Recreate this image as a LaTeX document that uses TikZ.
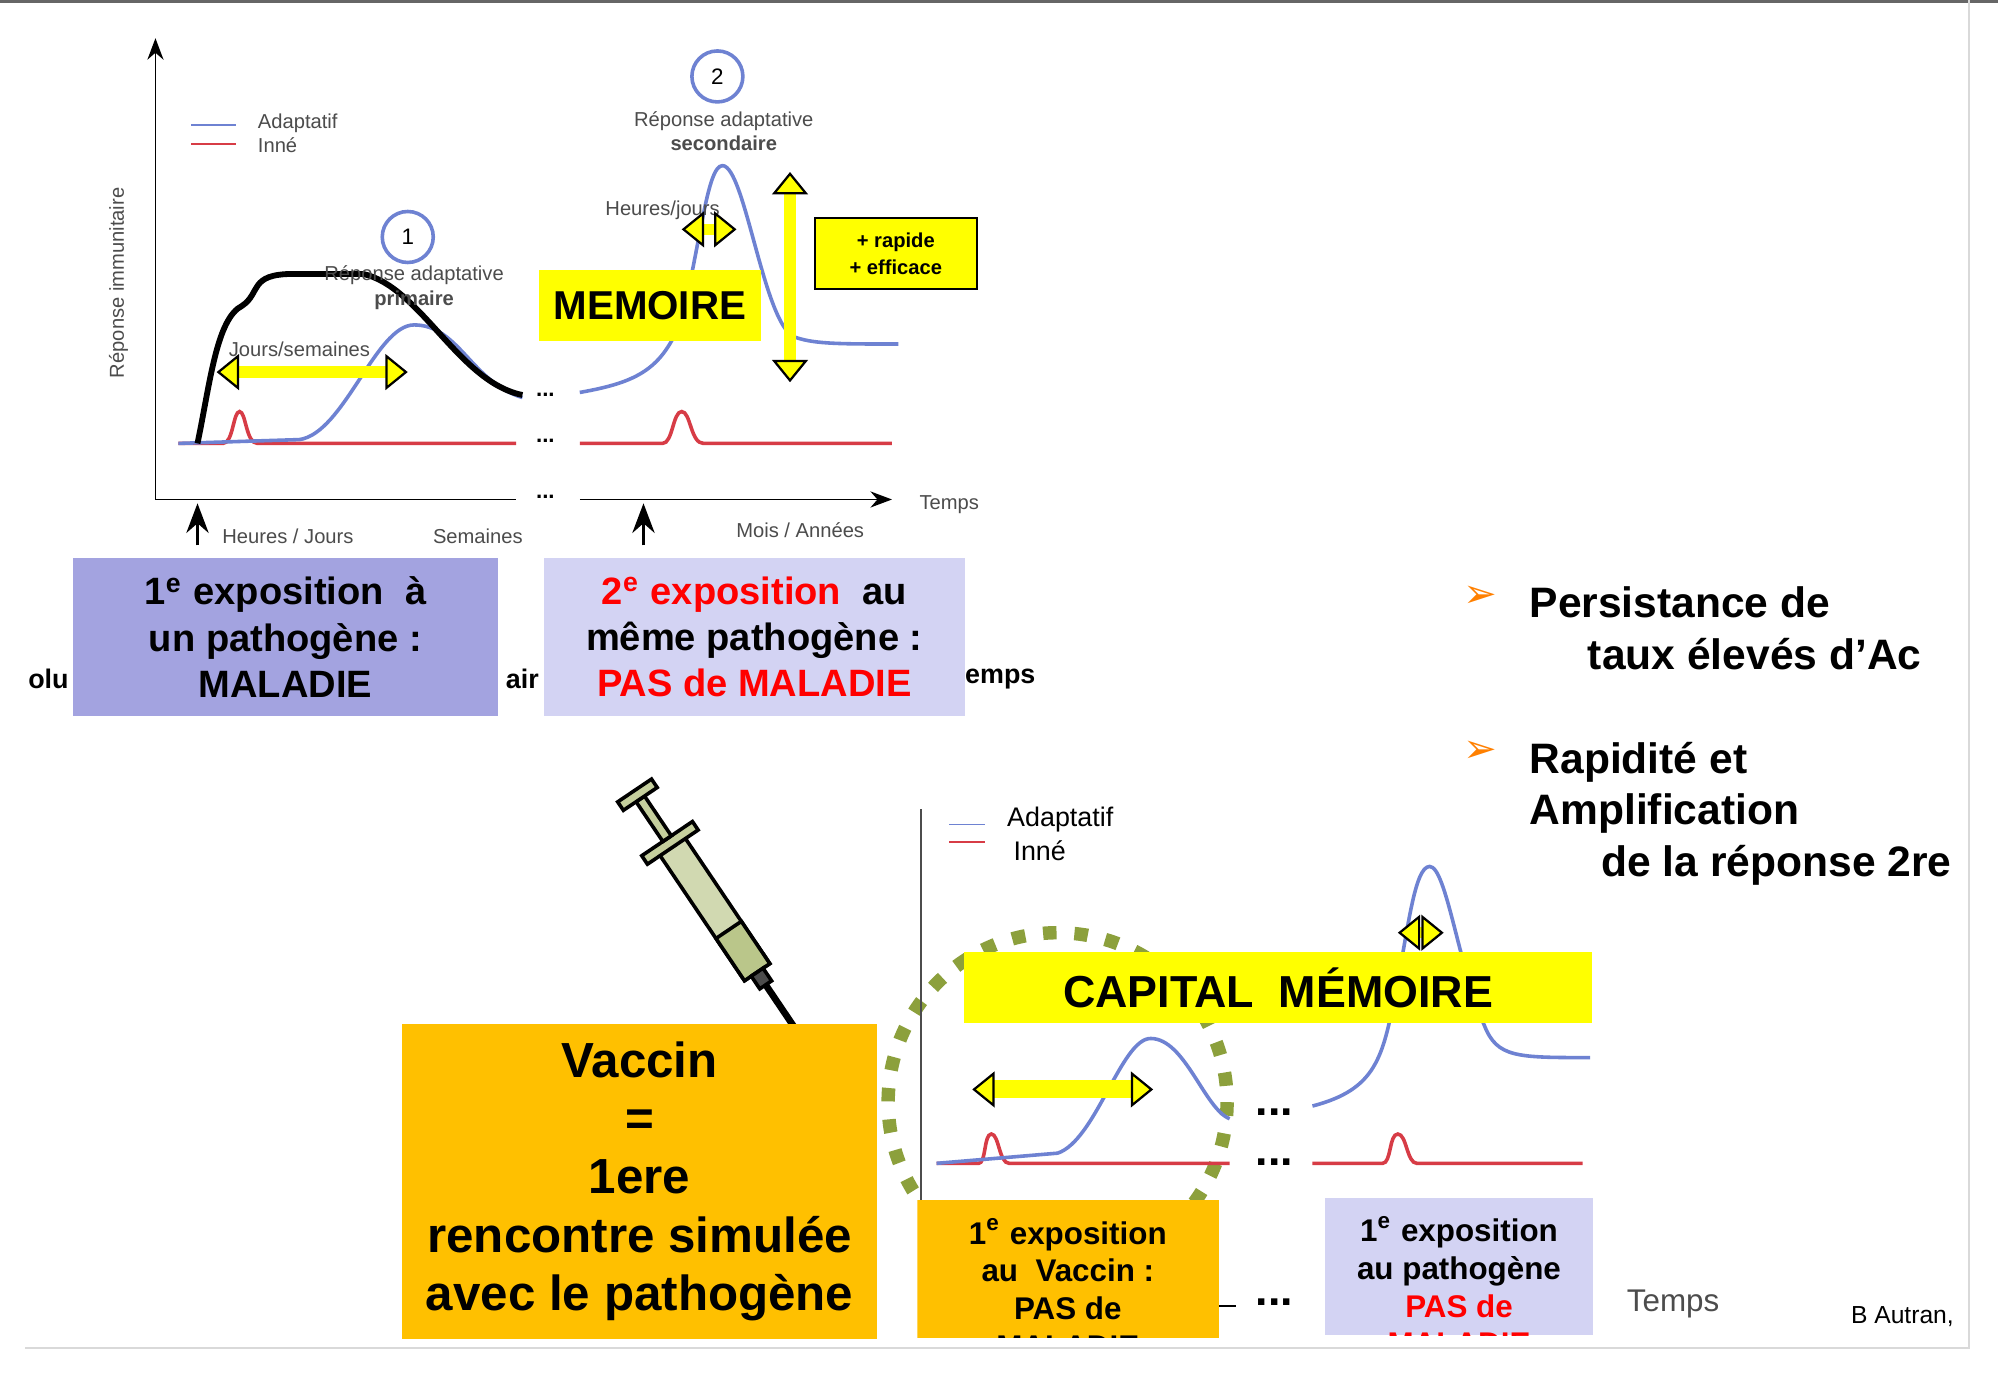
\documentclass[tikz,border=0pt]{standalone}
\usepackage{fontspec}
\setmainfont{Liberation Sans}
\newfontfamily\symb{DejaVu Sans}
\usetikzlibrary{arrows.meta}
\definecolor{adapt}{RGB}{110,130,210}
\definecolor{inne}{RGB}{215,60,70}
\definecolor{jaune}{RGB}{255,255,0}
\definecolor{orangebox}{RGB}{255,192,0}
\definecolor{violet1}{RGB}{163,163,224}
\definecolor{violet2}{RGB}{211,211,243}
\definecolor{olive}{RGB}{140,160,60}
\tikzset{
  ybox/.style={fill=jaune, inner sep=0pt},
  fleche/.style={draw=jaune, line width=2.5pt, {Triangle[width=8pt,length=5pt,color=black,fill=jaune,line width=0.5pt]}-{Triangle[width=8pt,length=5pt,color=black,fill=jaune,line width=0.5pt]}},
  big/.style={font=\fontsize{8.5}{10.3}\selectfont\bfseries, align=center, inner sep=0pt},
  tiny/.style={font=\fontsize{4.5}{5.5}\selectfont, text=black!70},
}
\begin{document}
\begin{tikzpicture}[x=0.01cm,y=-0.01cm]
\useasboundingbox (0,0) rectangle (1568,1080);
\fill[white] (0,0) rectangle (1568,1080);
\draw[black!60, line width=1pt] (0,1) -- (1568,1);
\draw[black!15] (1545,0) -- (1545,1058) -- (20,1058);
% --- top plot
\node[tiny] (temps1) at (745,396) {Temps};
\node[tiny, rotate=90] (rep) at (93,222) {Réponse immunitaire};
\coordinate (o1) at (122,392);
\draw[-{Stealth}] (o1) -- (122,30);
\draw (o1) -- (405,392);
\draw[-{Stealth}] (455,392) -- (700,392);
\node[font=\bfseries\tiny] (d1) at (428,390) {...};
\draw[adapt] (150,98) -- (185,98); \node[tiny, anchor=west] (la) at (190,97) {Adaptatif};
\draw[inne] (150,113) -- (185,113); \node[tiny, anchor=west] (li) at (190,114) {Inné};
\draw[inne, thick] (140,348) -- (175,348) .. controls (183,348) and (183,323) .. (188,323) .. controls (193,323) and (193,348) .. (202,348) -- (405,348);
\draw[inne, thick] (455,348) -- (520,348) .. controls (528,348) and (528,323) .. (535,323) .. controls (542,323) and (542,348) .. (552,348) -- (700,348);
\node[font=\bfseries\tiny] (d2) at (428,346) {...};
\node[font=\bfseries\tiny] (d3) at (428,310) {...};
\draw[adapt, thick] (140,348) -- (235,345) .. controls (270,340) and (295,255) .. (325,255) .. controls (360,255) and (370,300) .. (410,312);
\draw[adapt, thick] (455,308) .. controls (500,300) and (520,290) .. (535,250) .. controls (550,190) and (555,130) .. (567,130) .. controls (585,130) and (600,260) .. (625,265) .. controls (640,270) and (660,270) .. (705,270);
\draw[line width=1.3pt] (155,348) .. controls (165,300) and (170,250) .. (190,240) .. controls (205,230) and (195,215) .. (230,215) -- (285,215) .. controls (330,225) and (360,300) .. (410,310);
\node[draw=adapt, thick, circle, minimum size=0.4cm, inner sep=0pt, font=\tiny] (c1) at (320,186) {1};
\node[draw=adapt, thick, circle, minimum size=0.4cm, inner sep=0pt, font=\tiny] (c2) at (563,60) {2};
\node[tiny, align=center] (rp) at (325,226) {Réponse adaptative\\\textbf{primaire}};
\node[tiny, align=center] (rs) at (568,103) {Réponse adaptative\\\textbf{secondaire}};
\node[tiny] (js) at (235,274) {Jours/semaines};
\node[tiny] (hj) at (520,165) {Heures/jours};
\coordinate (a1) at (170,292); \coordinate (a2) at (320,292);
\draw[fleche] (a1) -- (a2);
\coordinate (b1) at (535,180); \coordinate (b2) at (578,180);
\draw[fleche] (b1) -- (b2);
\coordinate (v1) at (620,135); \coordinate (v2) at (620,300);
\draw[fleche] (v1) -- (v2);
\node[draw, fill=jaune, minimum width=1.27cm, minimum height=0.55cm, font=\fontsize{4.5}{6}\selectfont\bfseries, align=center] (scroll) at (703,199) {+ rapide\\+ efficace};
\node[ybox, minimum width=1.74cm, minimum height=0.56cm, font=\fontsize{9}{11}\selectfont\bfseries] (mem) at (510,240) {MEMOIRE};
\coordinate (h1) at (155,428); \coordinate (h2) at (505,428);
\draw[-{Stealth}, thick] (h1) -- ++(0,-33);
\draw[-{Stealth}, thick] (h2) -- ++(0,-33);
\node[tiny] (t1) at (226,421) {Heures / Jours};
\node[tiny] (t2) at (375,421) {Semaines};
\node[tiny] (t3) at (628,416) {Mois / Années};
% --- remnants
\node[font=\fontsize{6}{7}\selectfont\bfseries] (r1) at (38,533) {olu};
\node[font=\fontsize{6}{7}\selectfont\bfseries] (r2) at (410,533) {air};
\node[font=\fontsize{6}{7}\selectfont\bfseries] (r3) at (785,533) {emps};
\node[big, fill=violet1, minimum width=3.33cm, minimum height=1.24cm] (e1) at (224,500) {1\textsuperscript{e} exposition\ \ à\\un pathogène :\\MALADIE};
\node[big, fill=violet2, minimum width=3.30cm, minimum height=1.24cm] (e2) at (592,500) {\textcolor{red}{2\textsuperscript{e} exposition}\ \ au\\même pathogène :\\\textcolor{red}{PAS de MALADIE}};
% --- bullets
\node[text=orange, font=\symb\fontsize{9}{9}\selectfont] (p1) at (1162,468) {➢};
\node[text=orange, font=\symb\fontsize{9}{9}\selectfont] (p2) at (1162,590) {➢};
\node[font=\fontsize{9.5}{11.5}\selectfont\bfseries, align=left, anchor=north west] (pt1) at (1188,448) {Persistance de\\\hspace*{13pt}taux élevés d’Ac};
\node[font=\fontsize{9.5}{11.5}\selectfont\bfseries, align=left, anchor=north west] (pt2) at (1188,570) {Rapidité et\\Amplification\\\hspace*{16pt}de la réponse 2re};
% --- syringe
\begin{scope}[shift={(545,690)}, rotate=34, scale=0.8]
\draw[line width=1.5pt] (0,120) -- (0,195);
\draw[fill=olive!40!white, thick] (-15,-40) rectangle (15,110);
\draw[fill=olive!60!white, thick] (-15,60) rectangle (15,110);
\draw[fill=black!70, thick] (-7,110) rectangle (7,125);
\draw[fill=olive!50!white, thick] (-30,-48) rectangle (30,-38);
\draw[fill=olive!50!white, thick] (-5,-95) rectangle (5,-48);
\draw[fill=olive!50!white, thick] (-20,-105) rectangle (20,-95);
\end{scope}
\node[fill=orangebox, minimum width=3.73cm, minimum height=2.47cm, inner sep=0pt, font=\fontsize{11}{13}\selectfont\bfseries, align=center] (vac) at (502,927) {Vaccin\\=\\1ere\\rencontre simulée\\avec le pathogène};
% --- bottom plot
\draw[olive, line width=3pt, dash pattern=on 3pt off 4pt] (830,865) circle (133);
\draw[black!70] (723,635) -- (723,1050);
\draw[adapt] (745,647) -- (773,647); \node[font=\fontsize{6}{7}\selectfont, anchor=west] (la2) at (778,643) {Adaptatif};
\draw[inne] (745,661) -- (773,661); \node[font=\fontsize{6}{7}\selectfont, anchor=west] (li2) at (783,668) {Inné};
\draw[inne, thick] (735,913) -- (768,913) .. controls (774,913) and (772,890) .. (778,890) .. controls (784,890) and (784,913) .. (792,913) -- (965,913);
\draw[inne, thick] (1030,913) -- (1085,913) .. controls (1092,913) and (1090,890) .. (1097,890) .. controls (1104,890) and (1104,913) .. (1112,913) -- (1242,913);
\draw[adapt, thick] (735,913) -- (830,905) .. controls (860,895) and (880,815) .. (903,815) .. controls (930,815) and (945,870) .. (965,878);
\draw[adapt, thick] (1030,868) .. controls (1080,855) and (1085,830) .. (1095,780) .. controls (1105,730) and (1110,680) .. (1122,680) .. controls (1135,680) and (1145,760) .. (1165,805) .. controls (1175,830) and (1190,830) .. (1248,830);
\node[font=\bfseries] (d4) at (1000,873) {...};
\node[font=\bfseries] (d5) at (1000,912) {...};
\coordinate (f1) at (763,855); \coordinate (f2) at (905,855);
\draw[fleche, line width=4pt] (f1) -- (f2);
\coordinate (g1) at (1097,732); \coordinate (g2) at (1133,732);
\draw[fleche] (g1) -- (g2);
\node[ybox, minimum width=4.93cm, minimum height=0.56cm, font=\fontsize{10}{12}\selectfont\bfseries] (cap) at (1003,775) {CAPITAL\ \ MÉMOIRE};
\draw (957,1025) -- (970,1025);
\node[font=\bfseries] (d6) at (1000,1022) {...};
\node[font=\fontsize{7}{8}\selectfont, text=black!70] (temps2) at (1313,1023) {Temps};
\node[font=\fontsize{5.5}{6}\selectfont] (aut) at (1493,1033) {B Autran,};
\begin{scope}
\clip (720,942) rectangle (957,1050);
\fill[orangebox] (720,942) rectangle (957,1050);
\node[font=\fontsize{7}{8.4}\selectfont\bfseries, align=center, anchor=north] (x1t) at (838,944) {1\textsuperscript{e} exposition\\au\ \ Vaccin :\\PAS de\\MALADIE};
\end{scope}
\begin{scope}
\clip (1040,940) rectangle (1250,1048);
\fill[violet2] (1040,940) rectangle (1250,1048);
\node[font=\fontsize{7}{8.4}\selectfont\bfseries, align=center, anchor=north] (x2t) at (1145,942) {1\textsuperscript{e} exposition\\au pathogène\\\textcolor{red}{PAS de}\\\textcolor{red}{MALADIE}};
\end{scope}
\end{tikzpicture}
\end{document}
